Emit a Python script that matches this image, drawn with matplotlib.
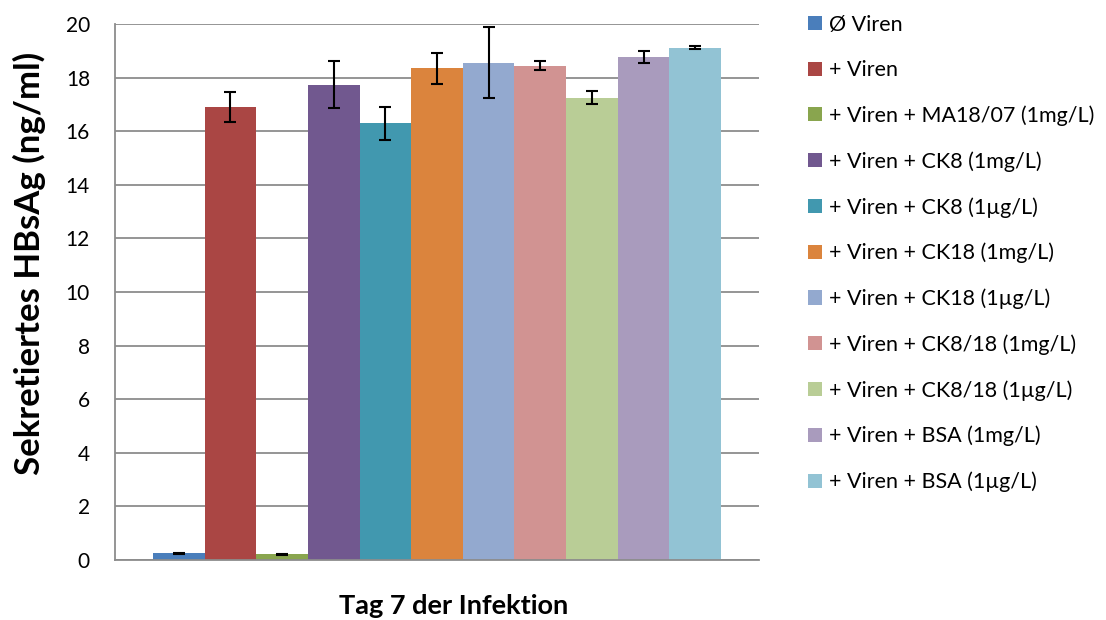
import matplotlib
matplotlib.use("Agg")
import matplotlib.pyplot as plt
import numpy as np

plt.rcParams['font.family'] = ['Lato', 'DejaVu Sans']

# data
labels = ['Ø Viren', '+ Viren', '+ Viren + MA18/07 (1mg/L)', '+ Viren + CK8 (1mg/L)',
          '+ Viren + CK8 (1µg/L)', '+ Viren + CK18 (1mg/L)', '+ Viren + CK18 (1µg/L)',
          '+ Viren + CK8/18 (1mg/L)', '+ Viren + CK8/18 (1µg/L)', '+ Viren + BSA (1mg/L)',
          '+ Viren + BSA (1µg/L)']
values = [0.25, 16.89, 0.21, 17.74, 16.29, 18.34, 18.56, 18.45, 17.25, 18.78, 19.12]
errors = [0.02, 0.56, 0.02, 0.88, 0.62, 0.59, 1.33, 0.16, 0.24, 0.23, 0.07]
colors = ['#4A7EBB', '#AA4644', '#89A54E', '#71588F', '#4198AF', '#DB843D',
          '#93A9CF', '#D19392', '#B9CD96', '#A99BBD', '#92C3D4']
yticks = [0, 2, 4, 6, 8, 10, 12, 14, 16, 18, 20]

W, H = 1106, 620
fig = plt.figure(figsize=(W / 100, H / 100), dpi=100)
ax = fig.add_axes([115 / W, 1 - 560 / H, (759 - 115) / W, (560 - 24) / H])

x = np.arange(len(values))
for i in range(len(values)):
    ax.bar(x[i], values[i], width=1.0, color=colors[i], label=labels[i], zorder=2)
    ax.errorbar(x[i], values[i], yerr=errors[i], fmt='none', ecolor='black',
                elinewidth=1.5, capsize=4, capthick=1.5, zorder=3)

bw = (721 - 153) / 11.0
ax.set_xlim(-0.5 - 38 / bw, 10.5 + 38 / bw)
ax.set_ylim(0, 20)
ax.set_yticks(yticks)
ax.set_xticks([])
ax.yaxis.grid(True, color='#8C8C8C', linewidth=1.3, zorder=0)
ax.set_axisbelow(True)
for s in ['top', 'right']:
    ax.spines[s].set_visible(False)
for s in ['left', 'bottom']:
    ax.spines[s].set_color('#8C8C8C')
    ax.spines[s].set_linewidth(1.3)
ax.tick_params(axis='y', length=0, pad=18, labelsize=15)

fig.text(29 / W, 1 - 263 / H, 'Sekretiertes HBsAg (ng/ml)', rotation=90,
         ha='center', va='center', fontsize=25, fontweight='bold')
fig.text(454 / W, 1 - 606 / H, 'Tag 7 der Infektion', ha='center', va='center',
         fontsize=19.5, fontweight='bold')

fig.legend(loc='upper left', bbox_to_anchor=(808 / W, 1 - 15 / H), frameon=False,
           fontsize=15.5, handlelength=0.63, handleheight=0.63, handletextpad=0.35,
           labelspacing=1.17, borderpad=0, borderaxespad=0)

fig.savefig('out.png', dpi=100)
